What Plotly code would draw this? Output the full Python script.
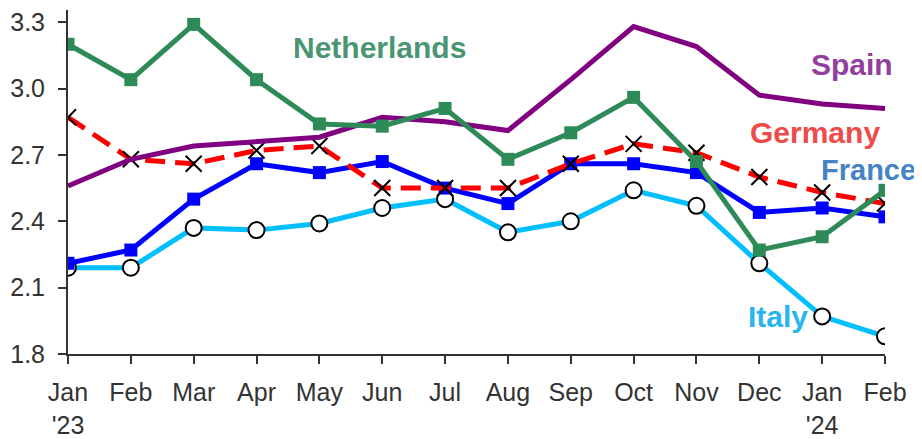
import plotly.graph_objects as go

months = ["Jan<br>'23", "Feb", "Mar", "Apr", "May", "Jun", "Jul", "Aug",
          "Sep", "Oct", "Nov", "Dec", "Jan<br>'24", "Feb"]

netherlands = [3.20, 3.04, 3.29, 3.04, 2.84, 2.83, 2.91, 2.68, 2.80, 2.96, 2.67, 2.27, 2.33, 2.54]
spain = [2.56, 2.68, 2.74, 2.76, 2.78, 2.87, 2.85, 2.81, 3.04, 3.28, 3.19, 2.97, 2.93, 2.91]
germany = [2.87, 2.68, 2.66, 2.72, 2.74, 2.55, 2.55, 2.55, 2.66, 2.75, 2.71, 2.60, 2.53, 2.48]
france = [2.21, 2.27, 2.50, 2.66, 2.62, 2.67, 2.55, 2.48, 2.66, 2.66, 2.62, 2.44, 2.46, 2.42]
italy = [2.19, 2.19, 2.37, 2.36, 2.39, 2.46, 2.50, 2.35, 2.40, 2.54, 2.47, 2.21, 1.97, 1.88]

FONT = "Liberation Sans, Arial, sans-serif"
x = list(range(len(months)))

fig = go.Figure()
fig.add_trace(go.Scatter(
    x=x, y=italy, mode="lines+markers", name="Italy",
    line=dict(color="#00BFFF", width=5),
    marker=dict(symbol="circle", size=16, color="white", line=dict(color="black", width=2)),
))
fig.add_trace(go.Scatter(
    x=x, y=france, mode="lines+markers", name="France",
    line=dict(color="#0000FF", width=5),
    marker=dict(symbol="square", size=13, color="#0000FF"),
))
fig.add_trace(go.Scatter(
    x=x, y=germany, mode="lines+markers", name="Germany",
    line=dict(color="#FF0000", width=5, dash="20px,10px"),
    marker=dict(symbol="x-thin-open", size=16, color="black", line=dict(color="black", width=2)),
))
fig.add_trace(go.Scatter(
    x=x, y=spain, mode="lines", name="Spain",
    line=dict(color="#800080", width=5),
))
fig.add_trace(go.Scatter(
    x=x, y=netherlands, mode="lines+markers", name="Netherlands",
    line=dict(color="#2E8B57", width=5),
    marker=dict(symbol="square", size=13, color="#2E8B57"),
))

labels = [
    ("Netherlands", 4.96, 3.187, "#4A9673"),
    ("Spain", 12.47, 3.11, "#9140A0"),
    ("Germany", 11.89, 2.80, "#EE4B4B"),
    ("France", 12.73, 2.63, "#4682C8"),
    ("Italy", 11.3, 1.97, "#29B6F0"),
]
for text, lx, ly, color in labels:
    fig.add_annotation(
        x=lx, y=ly, text=f"<b>{text}</b>", showarrow=False,
        font=dict(family=FONT, size=30 if text != "France" else 29, color=color),
    )

fig.update_layout(
    width=914, height=431,
    paper_bgcolor="white", plot_bgcolor="white",
    showlegend=False,
    font=dict(family=FONT, size=25, color="#333333"),
    margin=dict(l=60, r=37, t=2, b=85),
)
fig.update_xaxes(
    tickmode="array", tickvals=x, ticktext=months,
    range=[0, 13], showgrid=False, zeroline=False, automargin=False,
    showline=True, linecolor="#333333", linewidth=2,
    ticks="outside", ticklen=8, tickwidth=2, tickcolor="#333333",
    ticklabelstandoff=7, ticklabeloverflow="allow",
)
fig.update_yaxes(
    range=[1.8, 3.355], tickvals=[1.8, 2.1, 2.4, 2.7, 3.0, 3.3],
    tickformat=".1f", showgrid=False, zeroline=False, automargin=False,
    showline=True, linecolor="#333333", linewidth=2,
    ticks="outside", ticklen=8, tickwidth=2, tickcolor="#333333",
    ticklabelstandoff=8, ticklabeloverflow="allow",
)

fig.write_html("out.html")
